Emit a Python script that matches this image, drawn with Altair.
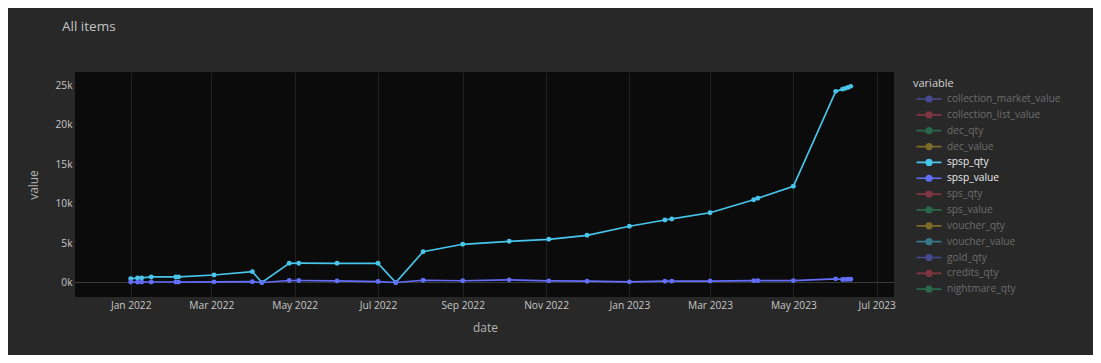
import altair as alt
import pandas as pd

# ---- data ----
dates = [
    "2022-01-01", "2022-01-06", "2022-01-09", "2022-01-16", "2022-02-03", "2022-02-05",
    "2022-03-03", "2022-03-31", "2022-04-07", "2022-04-27", "2022-05-04", "2022-06-01",
    "2022-07-01", "2022-07-14", "2022-08-03", "2022-09-01", "2022-10-05", "2022-11-03",
    "2022-12-01", "2023-01-01", "2023-01-27", "2023-02-01", "2023-03-01", "2023-04-02",
    "2023-04-05", "2023-05-01", "2023-06-01", "2023-06-06", "2023-06-08", "2023-06-10",
    "2023-06-12",
]
spsp_qty = [
    480, 560, 580, 700, 700, 710,
    950, 1370, 0, 2430, 2440, 2430,
    2430, 0, 3900, 4840, 5220, 5470,
    5980, 7120, 7920, 8050, 8840, 10490,
    10670, 12190, 24220, 24500, 24600, 24700,
    24850,
]
spsp_value = [
    60, 40, 50, 60, 60, 50,
    80, 100, 0, 250, 250, 200,
    120, 0, 280, 220, 330, 200,
    160, 80, 160, 170, 180, 230,
    230, 240, 460, 380, 390, 400,
    400,
]
variables = [
    "collection_market_value", "collection_list_value", "dec_qty", "dec_value",
    "spsp_qty", "spsp_value", "sps_qty", "sps_value", "voucher_qty", "voucher_value",
    "gold_qty", "credits_qty", "nightmare_qty",
]
colors = [
    "#464b91", "#7f3641", "#2a684a", "#7e6a29",
    "#48c5ea", "#636efa", "#7f3641", "#2a684a", "#7e6a29", "#387789",
    "#464b91", "#7f3641", "#2a684a",
]
shown = ["spsp_qty", "spsp_value"]

rows = []
for name, vals in (("spsp_qty", spsp_qty), ("spsp_value", spsp_value)):
    for d, v in zip(dates, vals):
        rows.append({"date": d, "value": v, "variable": name})
df = pd.DataFrame(rows)

FONT = "Open Sans"

xscale = alt.Scale(
    type="utc",
    domain=[alt.DateTime(year=2021, month=11, date=21, hours=5, utc=True),
            alt.DateTime(year=2023, month=7, date=13, hours=16, utc=True)],
)
xticks = [alt.DateTime(year=y, month=m, date=1, utc=True)
          for y, m in [(2022, 1), (2022, 3), (2022, 5), (2022, 7), (2022, 9), (2022, 11),
                       (2023, 1), (2023, 3), (2023, 5), (2023, 7)]]
yscale = alt.Scale(domain=[-1840, 26670], nice=False, zero=False)

x_enc = alt.X("date:T", scale=xscale,
              axis=alt.Axis(values=xticks, format="%b %Y", title="date",
                            titleX=410, titleY=30, titleAlign="center", titleBaseline="middle",
                            labelPadding=3))
y_enc = alt.Y("value:Q", scale=yscale,
              axis=alt.Axis(values=[0, 5000, 10000, 15000, 20000, 25000], format="~s",
                            title="value", titleAngle=-90, titleX=-42, titleY=112.5,
                            titleAlign="center", titleBaseline="middle", labelPadding=3))
cscale = alt.Scale(domain=variables, range=colors)

legend_path = ("M-2.5,0L2.5,0M0.55,0A0.55,0.55,0,1,1,-0.55,0A0.55,0.55,0,1,1,0.55,0Z")
legend = alt.Legend(
    orient="none", legendX=838, legendY=6, title="variable",
    titleFont=FONT, titleFontSize=11, titleFontWeight="normal", titleColor="#d2d2d2",
    titlePadding=4, padding=0,
    labelFont=FONT, labelFontSize=10.2, labelOffset=12, labelLimit=250,
    labelColor=alt.ExprRef(
        expr="indexof(['spsp_qty','spsp_value'], datum.value) >= 0 ? '#ededed' : '#6d6d6d'"),
    symbolType=legend_path, symbolSize=100, symbolStrokeWidth=1.7, symbolOffset=10,
    rowPadding=1.85, symbolOpacity=1, values=variables,
)
color_enc = alt.Color("variable:N", scale=cscale, legend=legend)

base = alt.Chart(df)

zero = base.mark_rule(color="#3a3a3a", strokeWidth=1).encode(y=alt.datum(0))

lines = base.mark_line(strokeWidth=1.7).encode(x=x_enc, y=y_enc, color=color_enc)

points = base.mark_point(filled=True, size=24, opacity=1).encode(
    x=x_enc, y=y_enc, color=color_enc)

chart = alt.layer(zero, lines, points).properties(
    width=819, height=225,
    padding={"left": 67, "top": 64, "right": 199, "bottom": 58},
    autosize=alt.AutoSizeParams(type="none"),
    background="#282828",
    title=alt.TitleParams("All items", anchor="start", frame="group", dx=-13, offset=28,
                          baseline="alphabetic", font=FONT, fontSize=13.5,
                          fontWeight="normal", color="#c4c4c4"),
).configure_view(fill="#0b0b0b", strokeWidth=0).configure_axis(
    gridColor="#222222", domain=False, ticks=False,
    labelFont=FONT, labelFontSize=10.2, labelColor="#c6c6c6",
    titleFont=FONT, titleFontSize=11.9, titleFontWeight="normal", titleColor="#b4b4b4",
)

chart.save("out.html", embed_options={"renderer": "svg", "actions": False})
